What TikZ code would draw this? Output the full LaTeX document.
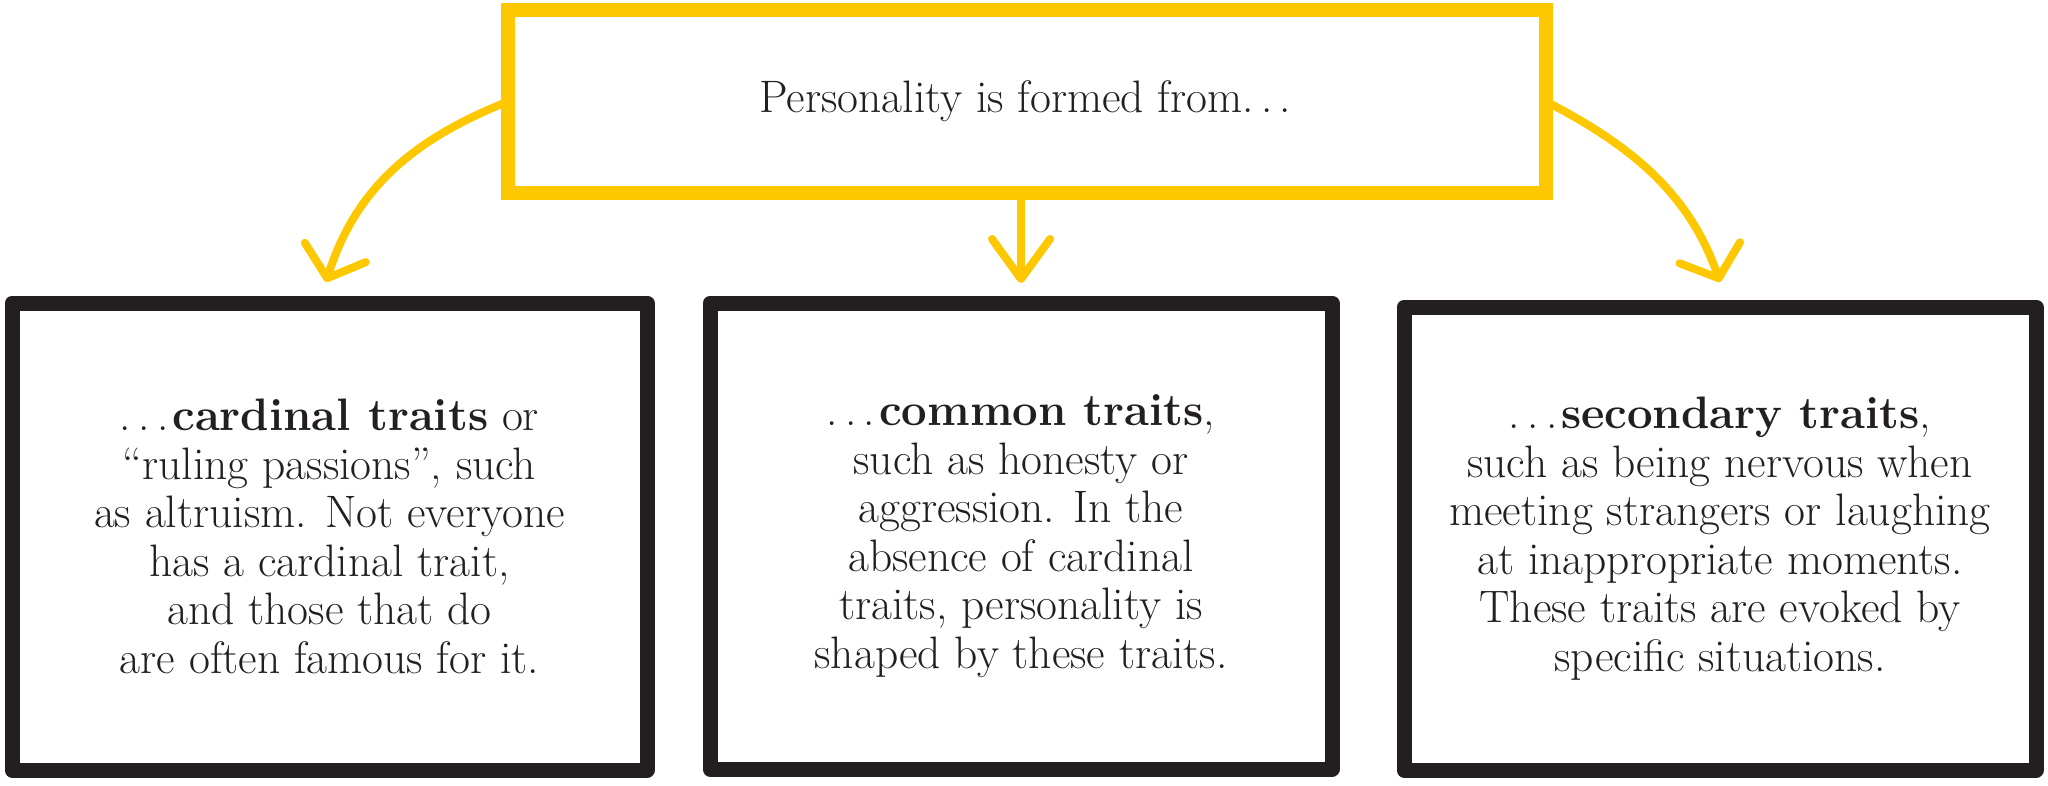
\documentclass[tikz,border=0pt]{standalone}
\usepackage{fontspec}
\setmainfont{Latin Modern Roman}
\usetikzlibrary{arrows.meta,calc}
\definecolor{ygold}{RGB}{254,200,0}
\definecolor{ink}{RGB}{35,31,32}
\newcommand\spdots{.\kern.16em.\kern.16em.\kern.08em}
\begin{document}
\begin{tikzpicture}[x=1pt,y=-1pt,
  topbox/.style={draw=ygold, line width=14pt, minimum width=1038pt, minimum height=183pt,
    inner sep=0pt, outer sep=0pt, text=ink, font=\fontsize{45.5}{48}\selectfont},
  traitbox/.style={draw=ink, line width=15pt, inner sep=0pt, outer sep=0pt, align=center,
    text=ink, font=\fontsize{45.5}{48.5}\selectfont, line join=round},
  yarrow/.style={draw=ygold, line width=8pt, line cap=round},
  sidetip/.style={-{Straight Barb[length=27pt,width=64pt,round]}},
  midtip/.style={-{Straight Barb[length=40pt,width=58pt,round]}}
]
\useasboundingbox (0,0) rectangle (2048,785);

\node[topbox] (top) at (1027,101.5) {Personality is formed from\spdots};

\node[traitbox, minimum width=635pt, minimum height=467pt] (b1) at (329.5,536.5)
  {\spdots\textbf{cardinal traits} or\\ “ruling passions”, such\\ as altruism. Not everyone\\ has a cardinal trait,\\ and those that do\\ are often famous for it.};
\node[traitbox, minimum width=622pt, minimum height=466pt] (b2) at (1021,536)
  {\spdots\textbf{common traits},\\ such as honesty or\\ aggression. In the\\ absence of cardinal\\ traits, personality is\\ shaped by these traits.};
\node[traitbox, minimum width=632pt, minimum height=463pt] (b3) at (1720,538.5)
  {\spdots\textbf{secondary traits},\\ such as being nervous when\\ meeting strangers or laughing\\ at inappropriate moments.\\ These traits are evoked by\\ specific situations.};

\coordinate (t1) at ($(b1.north)+(-3.5,-21)$);
\coordinate (t2) at ($(b2.north)+(0,-20)$);
\coordinate (t3) at ($(b3.north)+(0,-25)$);

\draw[yarrow, sidetip] (top.west) .. controls ($(top.west)+(-93,37)$) and ($(t1)+(30,-95)$) .. (t1);
\draw[yarrow, midtip] (top.south -| t2) -- (t2);
\draw[yarrow, sidetip] (top.east) .. controls ($(top.east)+(85,44)$) and ($(t3)+(-31,-89)$) .. (t3);
\end{tikzpicture}
\end{document}
